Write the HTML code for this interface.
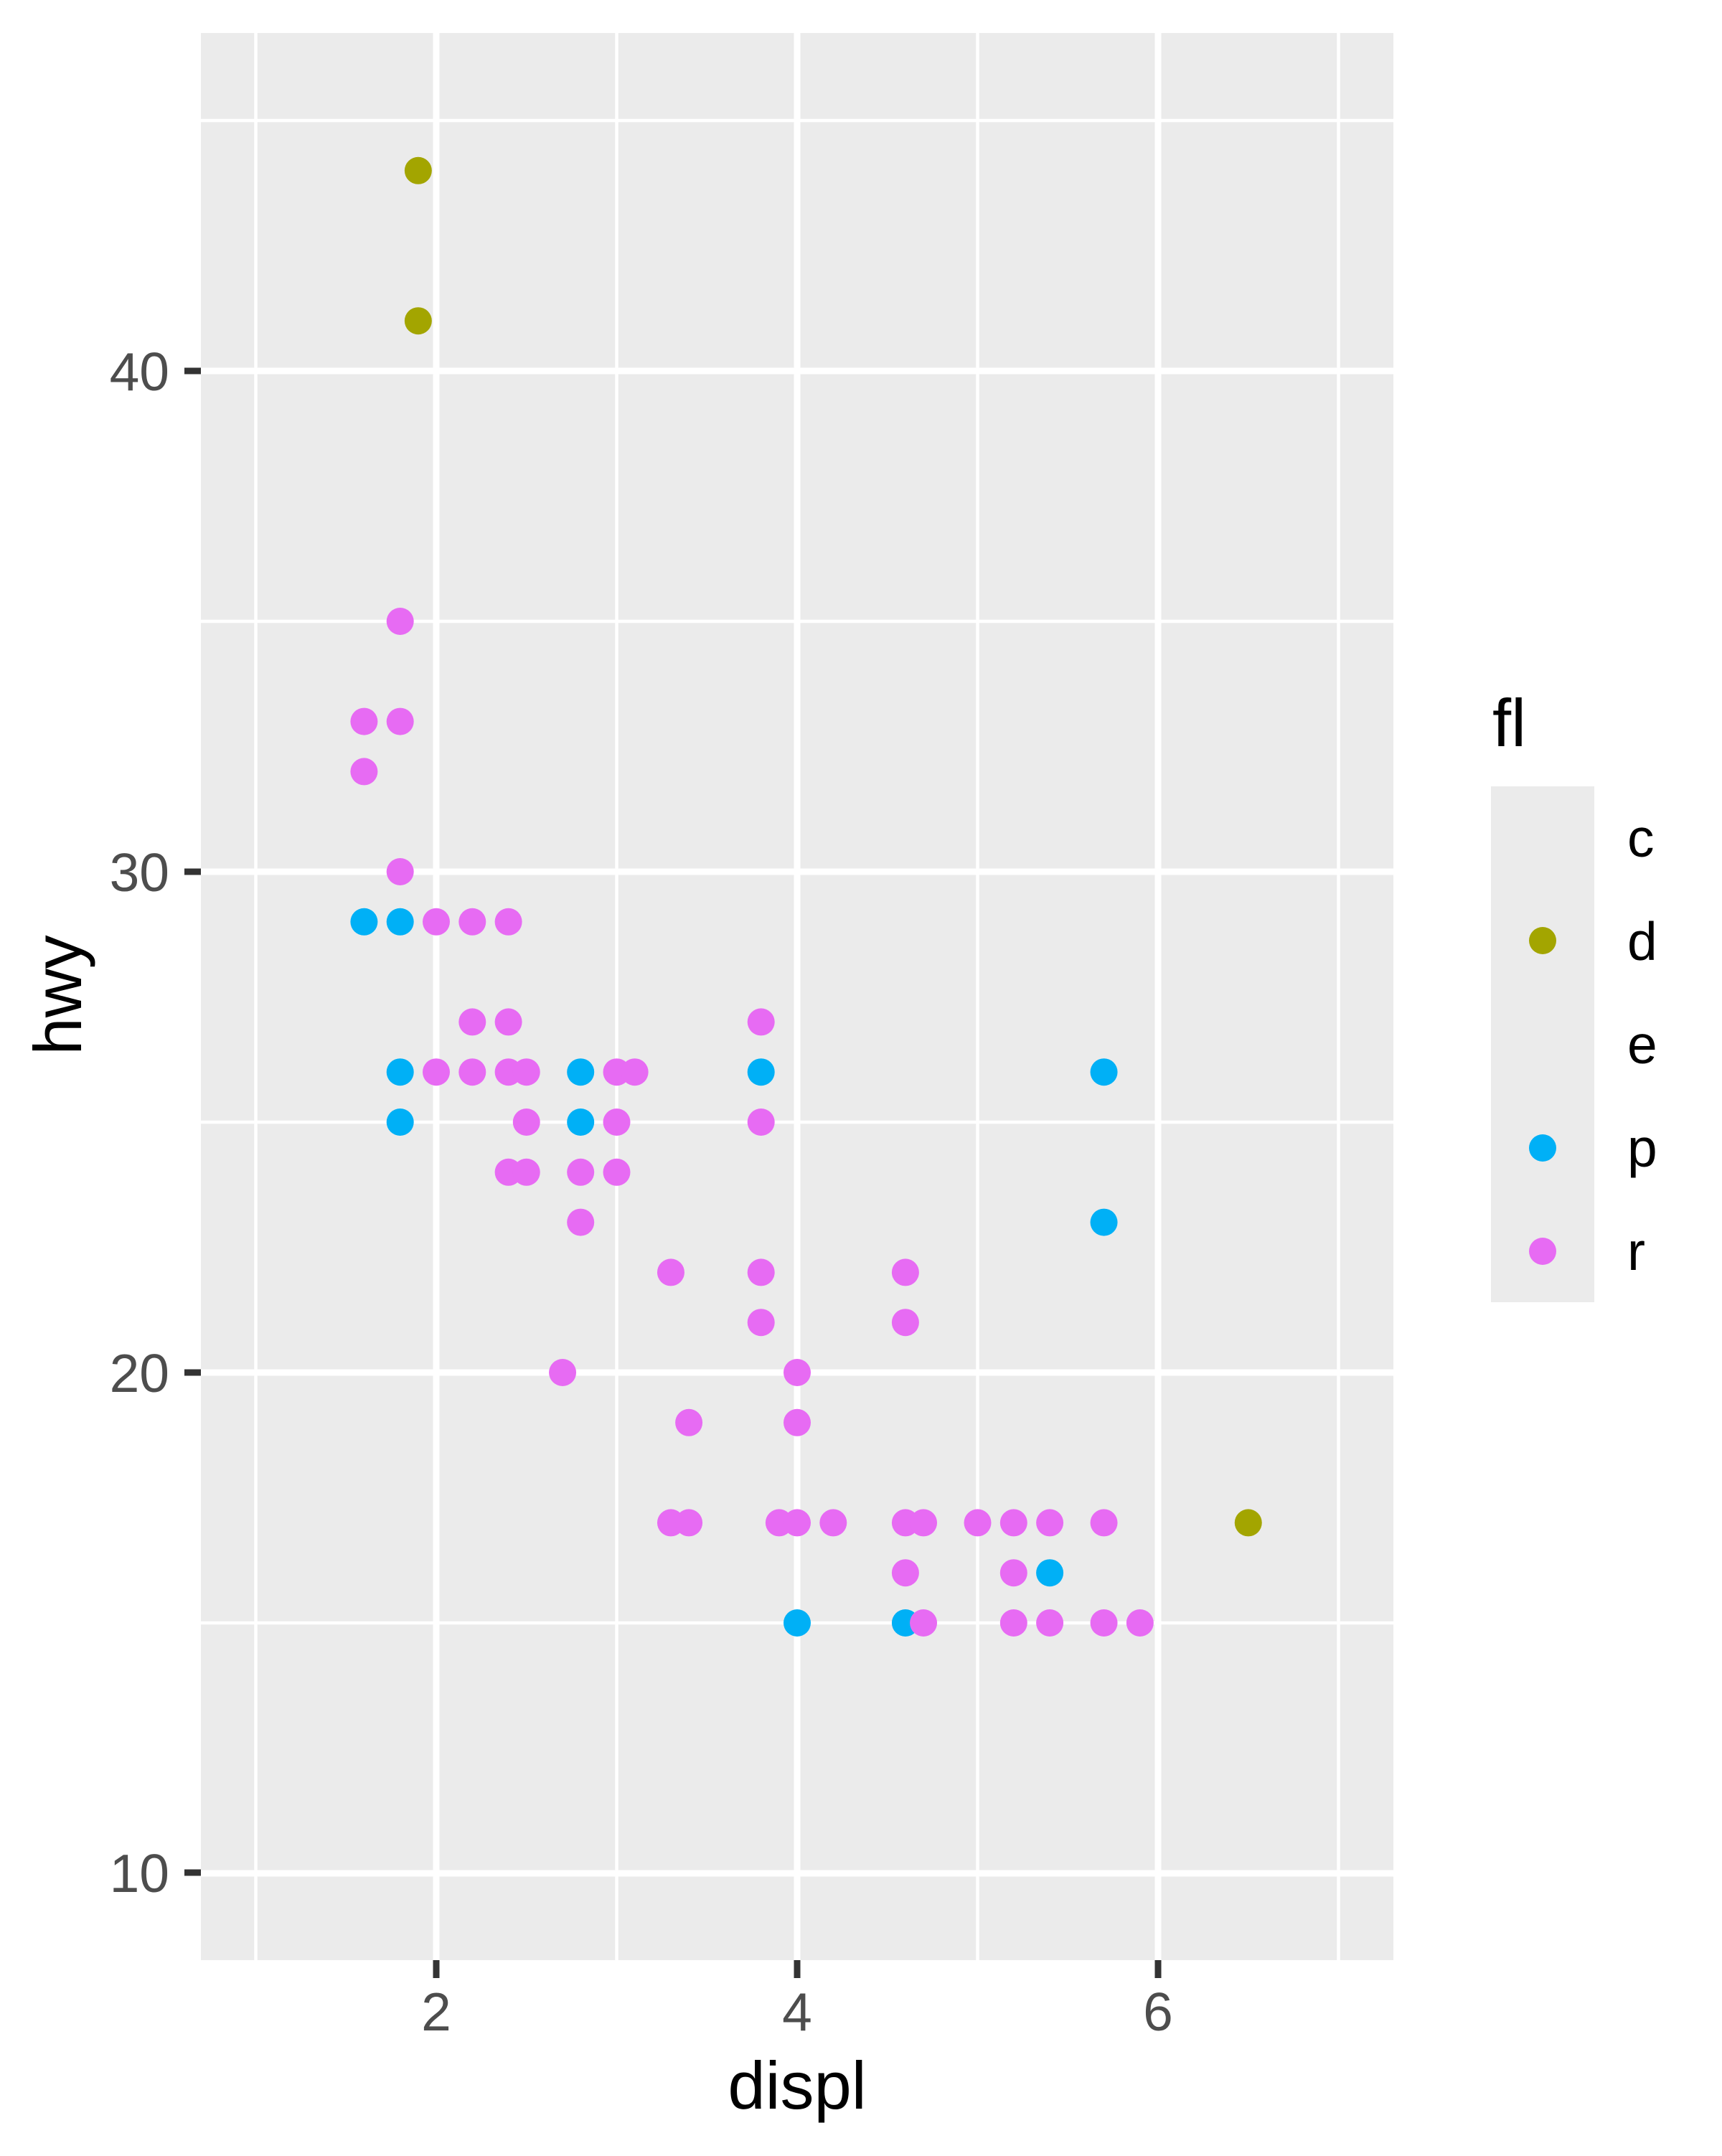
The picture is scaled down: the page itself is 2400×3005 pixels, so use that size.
<!DOCTYPE html>
<html><head><meta charset="utf-8"><style>html,body{margin:0;padding:0;background:#fff}</style></head>
<body>
<svg id="s" xmlns="http://www.w3.org/2000/svg" width="2400" height="3000" viewBox="0 0 2400 3000">
<rect width="2400" height="3000" fill="#fff"/>
<rect x="280" y="46" width="1662" height="2686" fill="#EBEBEB"/>
<g id="grid"></g>
<g id="pts"></g>
<g font-family="Liberation Sans, sans-serif" fill="#4D4D4D" font-size="75">
<text x="236" y="544" text-anchor="end">40</text>
<text x="236" y="1242" text-anchor="end">30</text>
<text x="236" y="1940" text-anchor="end">20</text>
<text x="236" y="2637" text-anchor="end">10</text>
<text x="608" y="2830" text-anchor="middle">2</text>
<text x="1111" y="2830" text-anchor="middle">4</text>
<text x="1614" y="2830" text-anchor="middle">6</text>
</g>
<g stroke="#333" stroke-width="9">
<line x1="257" x2="280" y1="517" y2="517"/><line x1="257" x2="280" y1="1215" y2="1215"/>
<line x1="257" x2="280" y1="1913" y2="1913"/><line x1="257" x2="280" y1="2610" y2="2610"/>
<line x1="608" x2="608" y1="2732" y2="2757"/><line x1="1111" x2="1111" y1="2732" y2="2757"/><line x1="1614" x2="1614" y1="2732" y2="2757"/>
</g>
<g font-family="Liberation Sans, sans-serif" fill="#000" font-size="94">
<text x="1111" y="2939" text-anchor="middle">displ</text>
<text transform="translate(113,1387) rotate(-90)" text-anchor="middle">hwy</text>
<text x="2080" y="1040">fl</text>
</g>
<rect x="2078" y="1096" width="144" height="719" fill="#EBEBEB"/>
<circle cx="2150" cy="1311" r="19" fill="#A3A500"/>
<circle cx="2150" cy="1600" r="19" fill="#00B0F6"/>
<circle cx="2150" cy="1744" r="19" fill="#E76BF3"/>
<g font-family="Liberation Sans, sans-serif" fill="#000" font-size="75">
<text x="2268" y="1194">c</text>
<text x="2268" y="1338">d</text>
<text x="2268" y="1482">e</text>
<text x="2268" y="1626">p</text>
<text x="2268" y="1770">r</text>
</g>
</svg>
<script>
var X=v=>608+(v-2)*251.5, Y=v=>517+(40-v)*69.8;
var g='';
[15,25,35,45].forEach(v=>g+=`<line x1="280" x2="1942" y1="${Y(v)}" y2="${Y(v)}" stroke="#fff" stroke-width="4.5"/>`);
[1,3,5,7].forEach(v=>g+=`<line y1="46" y2="2732" x1="${X(v)}" x2="${X(v)}" stroke="#fff" stroke-width="4.5"/>`);
[10,20,30,40].forEach(v=>g+=`<line x1="280" x2="1942" y1="${Y(v)}" y2="${Y(v)}" stroke="#fff" stroke-width="9"/>`);
[2,4,6].forEach(v=>g+=`<line y1="46" y2="2732" x1="${X(v)}" x2="${X(v)}" stroke="#fff" stroke-width="9"/>`);
document.getElementById('grid').innerHTML=g;
var P='#00B0F6',R='#E76BF3',D='#A3A500';
var pts=[[4.6,15,P]];
[[1.8,35],[1.6,33],[1.8,33],[1.6,32],[1.8,30],[2.0,29],[2.2,29],[2.4,29],[2.2,27],[2.4,27],[2.0,26],[2.2,26],[2.4,26],[2.5,26],[2.5,25],[2.4,24],[2.5,24],[2.8,24],[2.8,23],[3.0,26],[3.1,26],[3.0,25],[3.0,24],[2.7,20],[3.3,22],[3.4,19],[3.3,17],[3.4,17],[3.8,27],[3.8,25],[3.8,22],[3.8,21],[4.0,20],[4.0,19],[3.9,17],[4.0,17],[4.2,17],[4.6,22],[4.6,21],[4.6,17],[4.7,17],[4.6,16],[4.7,15],[5.0,17],[5.2,17],[5.4,17],[5.7,17],[5.2,16],[5.2,15],[5.4,15],[5.7,15],[5.9,15]].forEach(p=>pts.push([p[0],p[1],R]));
[[1.6,29],[1.8,29],[1.8,26],[1.8,25],[2.8,26],[2.8,25],[3.8,26],[5.7,26],[5.7,23],[4.0,15],[5.4,16]].forEach(p=>pts.push([p[0],p[1],P]));
[[1.9,44],[1.9,41],[6.5,17]].forEach(p=>pts.push([p[0],p[1],D]));
var s='';pts.forEach(p=>s+=`<circle cx="${X(p[0])}" cy="${Y(p[1])}" r="19" fill="${p[2]}"/>`);
document.getElementById('pts').innerHTML=s;
</script>
</body></html>
